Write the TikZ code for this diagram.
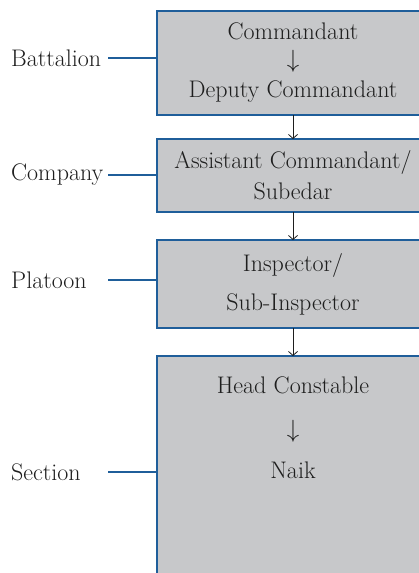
\documentclass[tikz,border=0pt]{standalone}
\usepackage{xcolor}
\usepackage{tikz}
\usetikzlibrary{arrows.meta,positioning}

\definecolor{boxgray}{HTML}{C7C8CA}
\definecolor{rankblue}{HTML}{1F5E9A}
\definecolor{inkgray}{HTML}{1E1E1E}

\begin{document}
\begin{tikzpicture}[
    x=1pt, y=-1pt,
    box/.style={rectangle, draw=rankblue, line width=2.2pt, fill=boxgray, minimum width=272pt,
                inner sep=0pt, outer sep=0pt, align=center, text=inkgray, font=\fontsize{24}{31}\selectfont},
    ranks/.style={inner sep=0pt, align=center, text=inkgray, font=\fontsize{24}{31}\selectfont},
    level/.style={anchor=west, inner sep=0pt, text=inkgray, font=\fontsize{24}{28}\selectfont},
    link/.style={draw=rankblue, line width=2.2pt},
    arrow/.style={-{Straight Barb[length=4pt,width=9pt]}, draw=inkgray, line width=0.8pt}
]
\useasboundingbox (0,0) rectangle (419,573);
\clip (0,0) rectangle (419,573);

\node[box, minimum height=104pt] (bat) at (293,63) {Commandant\\[-3pt] $\downarrow$\\[-1pt] Deputy Commandant};
\node[box, minimum height=73pt, below=24pt of bat] (coy) {Assistant Commandant/\\ Subedar};
\node[box, minimum height=88pt, below=28pt of coy] (plt) {Inspector/\\[8pt] Sub-Inspector};
\node[box, minimum height=240pt, below=28pt of plt] (sec) {};
\node[ranks, below=21pt of sec.north] (seclist) {Head Constable\\[13pt] $\downarrow$\\[10pt] Naik};

\node[level] (lbat) at (11,58) {Battalion};
\node[level] (lcoy) at (11,175) {Company};
\node[level] (lplt) at (11,280) {Platoon};
\node[level] (lsec) at (11,472) {Section};

\coordinate (rule) at (108,0);
\draw[link] (rule |- lbat) -- (bat.west |- lbat);
\draw[link] (rule |- lcoy) -- (coy.west |- lcoy);
\draw[link] (rule |- lplt) -- (plt.west |- lplt);
\draw[link] (rule |- lsec) -- (sec.west |- lsec);

\draw[arrow] (bat) -- (coy);
\draw[arrow] (coy) -- (plt);
\draw[arrow] (plt) -- (sec);
\end{tikzpicture}
\end{document}
